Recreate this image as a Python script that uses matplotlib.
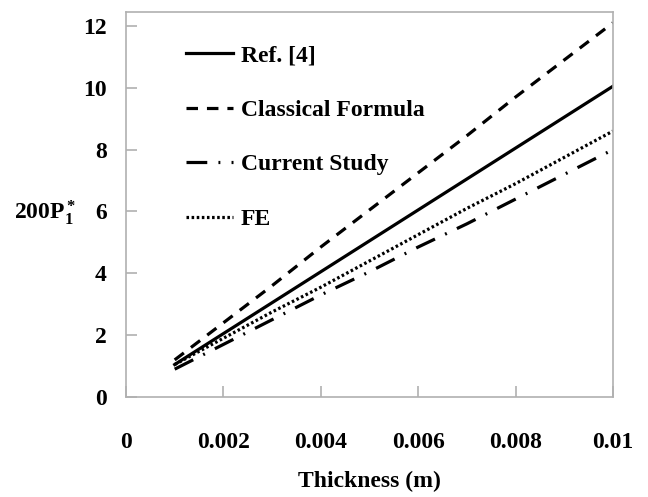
import numpy as np
import matplotlib
matplotlib.use("Agg")
import matplotlib.pyplot as plt

plt.rcParams["font.family"] = "Liberation Serif"
plt.rcParams["font.weight"] = "bold"
plt.rcParams["axes.labelweight"] = "bold"
plt.rcParams["mathtext.fontset"] = "custom"
plt.rcParams["mathtext.rm"] = "Liberation Serif:bold"
plt.rcParams["mathtext.it"] = "Liberation Serif:bold"
plt.rcParams["mathtext.bf"] = "Liberation Serif:bold"

thickness = [0.001, 0.002, 0.003, 0.004, 0.005, 0.006, 0.007, 0.008, 0.009, 0.010]
ref4 = [1.05, 2.05, 3.05, 4.05, 5.05, 6.05, 7.05, 8.05, 9.05, 10.05]
classical = [1.2, 2.4, 3.6, 4.85, 6.05, 7.25, 8.45, 9.7, 10.9, 12.1]
current = [0.9, 1.7, 2.5, 3.3, 4.05, 4.85, 5.6, 6.4, 7.2, 8.0]
fe = [1.05, 1.9, 2.75, 3.55, 4.4, 5.25, 6.1, 6.9, 7.75, 8.6]

fig = plt.figure(figsize=(6.48, 4.97), dpi=100)
ax = fig.add_axes([126/648, 100/497, 487/648, 385/497])

ax.plot(thickness, ref4, color="black", lw=2.3, ls="-", label="Ref. [4]")
ax.plot(thickness, classical, color="black", lw=2.3, ls=(0, (3.6, 2.8)), label="Classical Formula")
ax.plot(thickness, current, color="black", lw=2.3, ls=(0, (6.5, 3.5, 0.6, 3.5)), label="Current Study")
ax.plot(thickness, fe, color="black", lw=2.3, ls=(0, (0.8, 0.8)), label="FE")

ax.set_xlim(0, 0.01)
ax.set_ylim(0, 12.45)
ax.set_xticks([0, 0.002, 0.004, 0.006, 0.008, 0.01])
ax.set_xticklabels(["0", "0.002", "0.004", "0.006", "0.008", "0.01"])
ax.set_yticks([0, 2, 4, 6, 8, 10, 12])
for s in ax.spines.values():
    s.set_color("#b0b0b0")
    s.set_linewidth(1.2)
ax.tick_params(axis="both", direction="in", length=8, color="#b0b0b0", width=1.2,
               labelsize=17)
ax.tick_params(axis="x", pad=25)
ax.tick_params(axis="y", pad=14)

ax.set_xlabel("Thickness (m)", fontsize=17, labelpad=13)
ax.set_ylabel(r"$\mathrm{200P_1^*}$", fontsize=17, rotation=0, va="center")
ax.yaxis.set_label_coords(-0.165, 0.48)

ax.legend(loc="upper left", bbox_to_anchor=(0.08, 0.97), frameon=False, fontsize=17,
          handlelength=2.0, handletextpad=0.3, labelspacing=1.4)

fig.savefig("out.png", dpi=100)
